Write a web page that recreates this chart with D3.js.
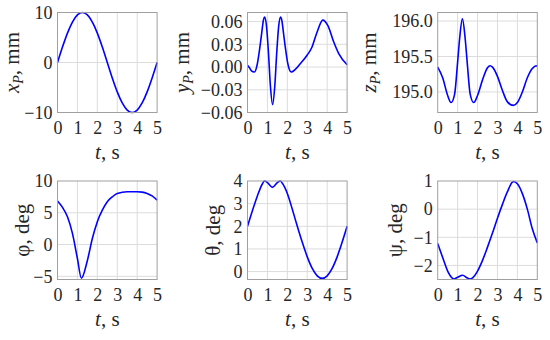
<!DOCTYPE html>
<html><head><meta charset="utf-8">
<script src="https://cdn.jsdelivr.net/npm/d3@7"></script>
<style>
html,body{margin:0;padding:0;background:#fff;}
</style></head>
<body><svg id="c" width="550" height="340"></svg>
<script>
// ---- data ----
const xpT = [0,0.25,0.5,0.75,1,1.25,1.5,1.75,2,2.25,2.5,2.75,3,3.25,3.5,3.75,4,4.25,4.5,4.75,5];
const xpV = [0,3.09,5.88,8.09,9.51,10,9.51,8.09,5.88,3.09,0,-3.09,-5.88,-8.09,-9.51,-10,-9.51,-8.09,-5.88,-3.09,0];

const ypT = [0,0.1,0.2,0.34,0.5,0.6,0.7,0.8,0.86,0.95,1.05,1.15,1.26,1.37,1.47,1.57,1.66,1.72,1.82,1.92,2.02,2.2,2.4,2.65,2.99,3.24,3.49,3.78,4.03,4.33,4.58,5];
const ypV = [0.0022,-0.001,-0.005,-0.0066,0.005,0.022,0.042,0.062,0.066,0.055,0.02,-0.025,-0.0496,-0.025,0.02,0.055,0.066,0.062,0.042,0.022,0.005,-0.0066,-0.003,0.0044,0.0155,0.0265,0.046,0.062,0.055,0.033,0.0177,0.003];

const zpT = [0,0.25,0.5,0.67,0.85,1.0,1.1,1.24,1.38,1.48,1.63,1.81,2.0,2.25,2.5,2.63,2.75,3.0,3.25,3.5,3.8,4.0,4.25,4.5,4.75,4.95,5];
const zpV = [195.35,195.2,194.95,194.85,194.97,195.42,195.75,196.03,195.75,195.42,194.97,194.85,194.95,195.17,195.34,195.37,195.35,195.22,195.02,194.86,194.81,194.85,195.0,195.2,195.33,195.37,195.36];

const phiT = [0,0.25,0.5,0.75,1.0,1.2,1.5,1.75,2.0,2.25,2.5,2.75,3.0,3.5,4.0,4.25,4.5,4.75,5];
const phiV = [6.85,5.85,4.37,1.75,-2.2,-5.3,-2.5,0.96,3.6,5.4,6.74,7.5,8.05,8.3,8.3,8.25,8.05,7.65,7.0];

const thT = [0,0.25,0.5,0.75,0.85,1.0,1.25,1.5,1.65,1.75,2.0,2.25,2.5,2.75,3.0,3.25,3.5,3.75,4.0,4.25,4.5,4.75,5];
const thV = [2.0,2.7,3.35,3.88,4.0,3.93,3.72,3.93,4.0,3.9,3.45,2.75,2.0,1.29,0.65,0.14,-0.19,-0.3,-0.19,0.14,0.65,1.29,2.0];

const psiT = [0,0.25,0.5,0.75,0.8,1.0,1.25,1.5,1.62,1.75,2.0,2.25,2.5,2.75,3.0,3.25,3.5,3.75,3.8,4.0,4.25,4.5,4.75,5];
const psiV = [-1.22,-1.72,-2.2,-2.46,-2.48,-2.42,-2.35,-2.45,-2.48,-2.44,-2.2,-1.82,-1.35,-0.85,-0.32,0.17,0.62,0.96,0.98,0.9,0.55,0.0,-0.7,-1.2];

const xTicks = [0,1,2,3,4,5];
const xpTicks = [-10,0,10];
const ypTicks = [-0.06,-0.03,0,0.03,0.06];
const zpTicks = [195,195.5,196];
const phiTicks = [-5,0,5,10];
const thTicks = [0,1,2,3,4];
const psiTicks = [-2,-1,0,1];

const FONT = 'Liberation Serif';
const TXT = '#262626';

const panels = [
  {t:xpT, v:xpV, dom:[-10,10], ticks:xpTicks, fmt:d3.format("d"), lab:["x","P",", mm"], col:0, row:0, tx:19},
  {t:ypT, v:ypV, dom:[-0.06,0.072], ticks:ypTicks, fmt:d3.format(".2f"), lab:["y","P",", mm"], col:1, row:0, tx:189},
  {t:zpT, v:zpV, dom:[194.71,196.12], ticks:zpTicks, fmt:d3.format(".1f"), lab:["z","P",", mm"], col:2, row:0, tx:376},
  {t:phiT, v:phiV, dom:[-5.5,10], ticks:phiTicks, fmt:d3.format("d"), lab:["","","φ, deg"], col:0, row:1, tx:29},
  {t:thT, v:thV, dom:[-0.35,4], ticks:thTicks, fmt:d3.format("d"), lab:["","","θ, deg"], col:1, row:1, tx:220},
  {t:psiT, v:psiV, dom:[-2.5,1.0], ticks:psiTicks, fmt:d3.format("d"), lab:["","","ψ, deg"], col:2, row:1, tx:402}
];

const colX = [57.5, 247.5, 437.7];
const W = 99.6;
const rowY = [12.5, 181];
const H = [100, 98.5];

const svg = d3.select("#c");

panels.forEach(p => {
  const x0 = colX[p.col], y0 = rowY[p.row], h = H[p.row];
  const g = svg.append("g").attr("transform", `translate(${x0},${y0})`);
  const xs = d3.scaleLinear().domain([0,5]).range([0,W]);
  const ys = d3.scaleLinear().domain(p.dom).range([h,0]);

  // grid
  g.append("g").selectAll("line").data(xTicks.slice(1,-1)).join("line")
    .attr("x1", d=>xs(d)).attr("x2", d=>xs(d)).attr("y1",0).attr("y2",h)
    .attr("stroke","#dcdcdc").attr("stroke-width",1);
  g.append("g").selectAll("line").data(p.ticks.filter(d=>ys(d)>0.5 && ys(d)<h-0.5)).join("line")
    .attr("x1",0).attr("x2",W).attr("y1",d=>ys(d)).attr("y2",d=>ys(d))
    .attr("stroke","#dcdcdc").attr("stroke-width",1);

  // line
  const pts = p.t.map((t,i)=>[t,p.v[i]]);
  g.append("path").datum(pts)
    .attr("d", d3.line().x(d=>xs(d[0])).y(d=>ys(d[1])).curve(d3.curveMonotoneX))
    .attr("fill","none").attr("stroke","#0000ff").attr("stroke-width",1.6);

  // frame
  g.append("rect").attr("x",0).attr("y",0).attr("width",W).attr("height",h)
    .attr("fill","none").attr("stroke","#a0a0a0").attr("stroke-width",1);

  // x axis
  const xa = d3.axisBottom(xs).tickValues(xTicks).tickSize(0).tickPadding(9).tickFormat(d3.format("d"));
  const xg = g.append("g").attr("transform",`translate(0,${h})`).call(xa);
  xg.attr("font-family",FONT).attr("font-size",18);
  xg.select(".domain").remove();
  xg.selectAll("text").attr("fill",TXT).attr("font-family",FONT);

  // y axis
  const ya = d3.axisLeft(ys).tickValues(p.ticks).tickSize(0).tickPadding(5).tickFormat(p.fmt);
  const yg = g.append("g").call(ya);
  yg.attr("font-family",FONT).attr("font-size",18);
  yg.select(".domain").remove();
  yg.selectAll("text").attr("fill",TXT).attr("font-family",FONT);

  // x title
  const xt = g.append("text").attr("x", W/2).attr("y", h+46).attr("text-anchor","middle")
    .attr("font-family",FONT).attr("font-size",21).attr("fill",TXT);
  xt.append("tspan").attr("font-style","italic").text("t");
  xt.append("tspan").text(", s");

  // y title
  const yt = svg.append("text").attr("transform",`translate(${p.tx},${y0+h/2}) rotate(-90)`)
    .attr("text-anchor","middle").attr("font-family",FONT).attr("font-size",21).attr("fill",TXT);
  if (p.lab[0]) {
    yt.append("tspan").attr("font-style","italic").text(p.lab[0]);
    yt.append("tspan").attr("font-style","italic").attr("font-size",14).attr("dy",4).text(p.lab[1]);
    yt.append("tspan").attr("dy",-4).text(p.lab[2]);
  } else {
    yt.append("tspan").text(p.lab[2]);
  }
});
</script></body></html>
